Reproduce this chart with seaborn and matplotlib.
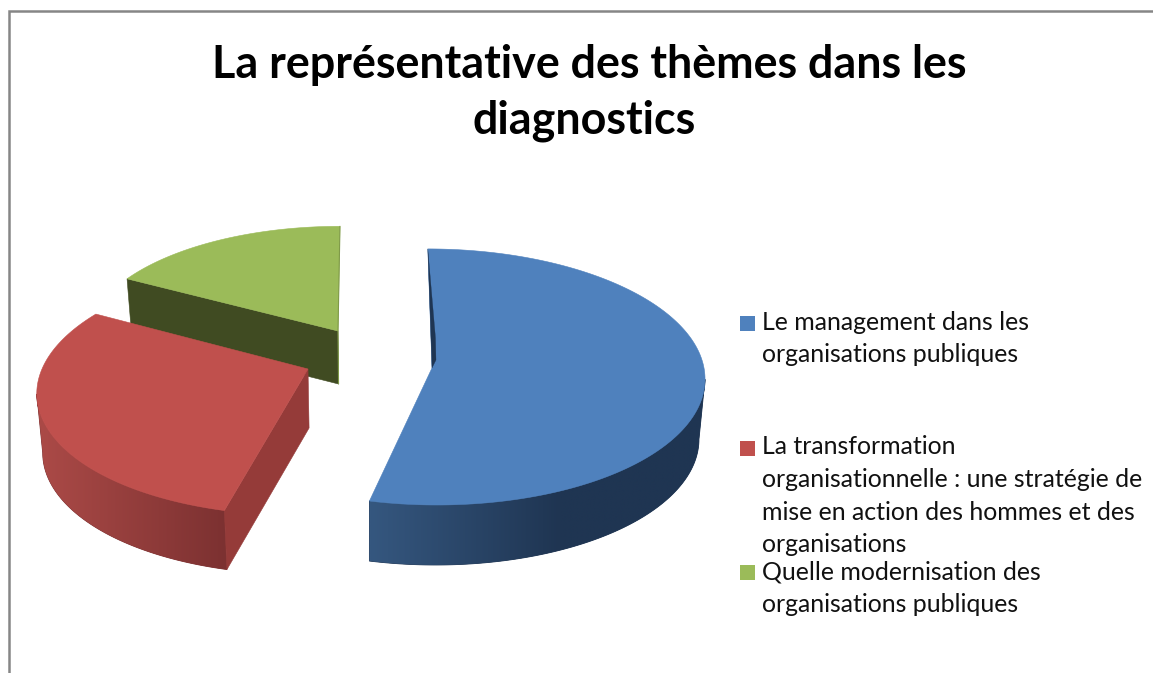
import numpy as np
import matplotlib
matplotlib.use("Agg")
import matplotlib.pyplot as plt
from matplotlib.colors import to_rgb, ListedColormap
import seaborn as sns

# ---- data ----
title_lines = ["La représentative des thèmes dans les", "diagnostics"]
categories = [
    "Le management dans les\norganisations publiques",
    "La transformation\norganisationnelle : une stratégie de\nmise en action des hommes et des\norganisations",
    "Quelle modernisation des\norganisations publiques",
]
shares = [53.7, 29.3, 17.0]

# ---- style ----
sns.set_theme(style="white")
plt.rcParams["font.family"] = ["Lato", "DejaVu Sans"]
top_colors = sns.color_palette(["#4F81BD", "#C0504D", "#9BBB59"])
side_left = ["#35577F", "#AB4A47", "#5A6B30"]
side_right = ["#1F3552", "#7C3131", "#3F4B22"]
cut_colors = ["#1F3552", "#953B39", "#404B22"]
side_span = [(371, 560), (40, 225), (127, 341)]

# ---- layout (pixels): apex, radii, perspective, depth ----
VANISH_X = 368.0
SHRINK = 0.982
apex = [(432, 368), (308, 369), (338, 331)]
radii = [(272, 127.4), (266, 122.8), (250, 112)]
persp = [0.07, 0.16, 0.07]
depth = [60, 59, 53]
draw_order = [2, 1, 0]

fig = plt.figure(figsize=(11.53, 6.73), dpi=100, facecolor="white")
ax = fig.add_axes([0, 0, 1, 1])

# chart frame
ax.plot([8.5, 8.5, 1153], [673, 11, 11], color="#868686", lw=1.8,
        solid_joinstyle="miter", solid_capstyle="butt")


def project(i, theta):
    a, b = np.sin(theta), -np.cos(theta)
    ax_, ay_ = apex[i]
    rx, ry = radii[i]
    w = 1 - persp[i] * b
    return VANISH_X + (ax_ - VANISH_X + rx * a) / w, ay_ + ry * b / w


def lower(i, x, y):
    return VANISH_X + (np.asarray(x) - VANISH_X) * SHRINK, np.asarray(y) + depth[i]


edges = np.cumsum([0] + shares) / sum(shares) * 2 * np.pi

for i in draw_order:
    t = np.linspace(edges[i], edges[i + 1], 361)
    x, y = project(i, t)
    xb, yb = lower(i, x, y)
    ax_, ay_ = apex[i]
    axb, ayb = lower(i, ax_, ay_)

    # curved outer wall, from the silhouette tangent round the front,
    # shaded from left to right
    if i < 2:
        vis = slice(int(np.argmax(x)), None) if i == 0 else slice(0, int(np.argmin(x)) + 1)
        px = np.r_[x[vis], xb[vis][::-1]]
        py = np.r_[y[vis], yb[vis][::-1]]
        clip, = ax.fill(px, py, color=side_right[i], lw=0.6, zorder=1)
        x0, x1 = px.min() - 2, px.max() + 2
        cols = np.linspace(x0, x1, 400)
        xl, xr = side_span[i]
        f = np.clip((cols - xl) / (xr - xl), 0, 1)[:, None]
        ramp = np.array(to_rgb(side_left[i])) * (1 - f) + np.array(to_rgb(side_right[i])) * f
        im = ax.imshow(np.arange(400)[None, :], cmap=ListedColormap(ramp), aspect="auto",
                       extent=(x0, x1, py.max() + 2, py.min() - 2), zorder=1.5,
                       interpolation="bilinear")
        im.set_clip_path(clip)

    # flat cut wall facing the viewer
    if i > 0:
        ax.fill([ax_, x[0], xb[0], axb], [ay_, y[0], yb[0], ayb], color=cut_colors[i], lw=0.4, zorder=2)

    # top face
    ax.fill(np.r_[ax_, x], np.r_[ay_, y], color=top_colors[i], lw=0.4, zorder=3)

    # thin edges: far wall of the large slice, rim of the small one
    if i == 0:
        ax.fill([x[0], ax_, ax_ + 4, ax_ + 3.5], [y[0], ay_, ay_ - 8, ay_ - 30],
                color=cut_colors[0], lw=0.2, zorder=4)
    if i == 2:
        ax.plot([x[-1], ax_, axb], [y[-1], ay_, ayb], color="#7F9A48", lw=0.8, zorder=4)

ax.set_xlim(0, 1153)
ax.set_ylim(673, 0)
ax.axis("off")

# ---- title ----
ax.text(589, 78, title_lines[0], ha="center", va="baseline", fontsize=32.3,
        fontweight="bold", color="black", zorder=5)
ax.text(584, 133, title_lines[1], ha="center", va="baseline", fontsize=32.3,
        fontweight="bold", color="black", zorder=5)

# ---- legend ----
swatch_top = [316, 441, 565]
last_baseline = [362, 552, 612]
for i, label in enumerate(categories):
    ax.fill([740, 755, 755, 740], [swatch_top[i], swatch_top[i], swatch_top[i] + 15, swatch_top[i] + 15],
            color=top_colors[i], lw=0)
    ax.text(762, last_baseline[i], label, ha="left", va="baseline", fontsize=17.9,
            color="#111111", linespacing=1.5, zorder=5)

fig.savefig("out.png", dpi=100, facecolor="white")
